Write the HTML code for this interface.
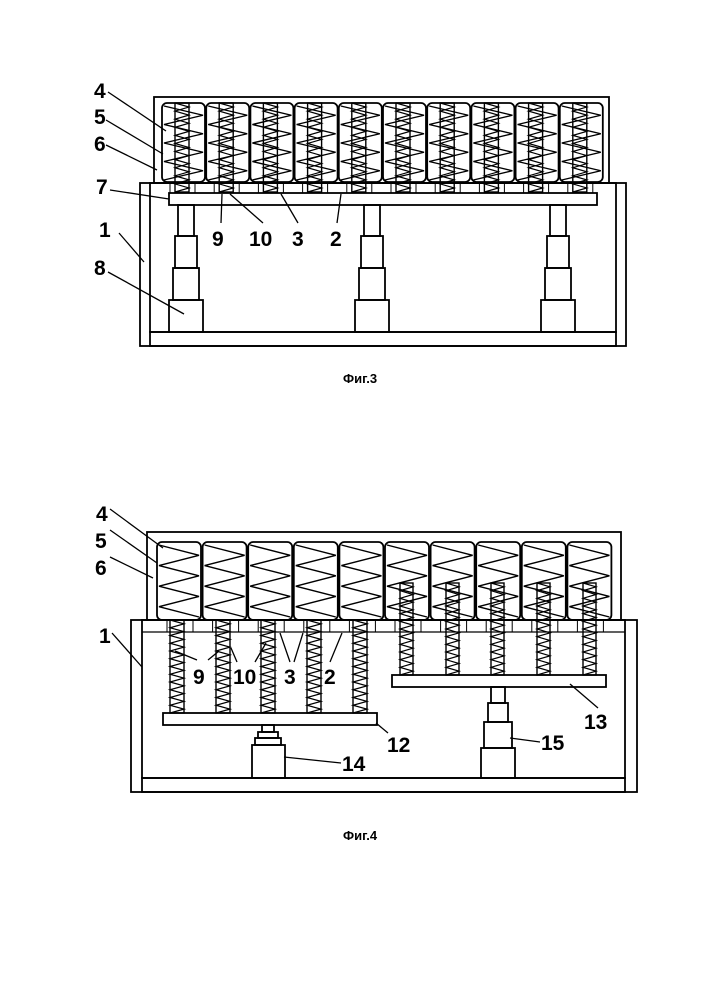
<!DOCTYPE html>
<html><head><meta charset="utf-8"><style>
html,body{margin:0;padding:0;background:#fff;width:707px;height:1000px;overflow:hidden}
svg{display:block}
text{font-family:"Liberation Sans",Arial,sans-serif;fill:#000}
.l{font-size:21px;font-weight:bold}
.c{font-size:13px;font-weight:bold}
</style></head><body>
<svg id="s" width="707" height="1000" viewBox="0 0 707 1000" xmlns="http://www.w3.org/2000/svg" fill="none" stroke="#000" stroke-width="1.8">
<g id="g"></g>
<g stroke="#000" stroke-width="1.3">
<!-- Fig3 leaders -->
<line x1="108" y1="92" x2="166" y2="131"/>
<line x1="106" y1="120" x2="163" y2="154"/>
<line x1="106" y1="145" x2="157" y2="170"/>
<line x1="110" y1="190" x2="169" y2="199"/>
<line x1="119" y1="233" x2="144" y2="262"/>
<line x1="108" y1="272" x2="184" y2="314"/>
<line x1="221" y1="223" x2="222" y2="194"/>
<line x1="263" y1="223" x2="230" y2="194"/>
<line x1="298" y1="223" x2="281" y2="194"/>
<line x1="337" y1="223" x2="341" y2="194"/>
<!-- Fig4 leaders -->
<line x1="110" y1="509" x2="163" y2="548"/>
<line x1="110" y1="530" x2="157" y2="563"/>
<line x1="110" y1="557" x2="153" y2="578"/>
<line x1="112" y1="633" x2="142" y2="667"/>
<line x1="197" y1="660" x2="175" y2="651"/>
<line x1="208" y1="660" x2="219" y2="651"/>
<line x1="237" y1="662" x2="231" y2="648"/>
<line x1="255" y1="662" x2="266" y2="643"/>
<line x1="290" y1="662" x2="280" y2="633"/>
<line x1="294" y1="662" x2="303" y2="633"/>
<line x1="330" y1="662" x2="342" y2="633"/>
<line x1="388" y1="733" x2="376" y2="723"/>
<line x1="598" y1="708" x2="570" y2="684"/>
<line x1="341" y1="763" x2="284" y2="757"/>
<line x1="540" y1="742" x2="510" y2="738"/>
</g>
<g stroke="none">
<text class="l" x="94" y="98">4</text>
<text class="l" x="94" y="124">5</text>
<text class="l" x="94" y="151">6</text>
<text class="l" x="96" y="194">7</text>
<text class="l" x="99" y="237">1</text>
<text class="l" x="94" y="275">8</text>
<text class="l" x="212" y="246">9</text>
<text class="l" x="249" y="246">10</text>
<text class="l" x="292" y="246">3</text>
<text class="l" x="330" y="246">2</text>
<text class="c" x="343" y="383">Фиг.3</text>
<text class="l" x="96" y="521">4</text>
<text class="l" x="95" y="548">5</text>
<text class="l" x="95" y="575">6</text>
<text class="l" x="99" y="643">1</text>
<text class="l" x="193" y="684">9</text>
<text class="l" x="233" y="684">10</text>
<text class="l" x="284" y="684">3</text>
<text class="l" x="324" y="684">2</text>
<text class="l" x="387" y="752">12</text>
<text class="l" x="584" y="729">13</text>
<text class="l" x="342" y="771">14</text>
<text class="l" x="541" y="750">15</text>
<text class="c" x="343" y="840">Фиг.4</text>
</g>
</svg>
<script>
var g=document.getElementById('g'),h='';
function R(x,y,w,hh,sw){h+='<rect x="'+x+'" y="'+y+'" width="'+w+'" height="'+hh+'"'+(sw?' stroke-width="'+sw+'"':'')+'/>';}
function P(pts,sw){h+='<polyline points="'+pts.join(' ')+'"'+(sw?' stroke-width="'+sw+'"':'')+'/>';}
function RR(x,y,w,hh){h+='<rect x="'+x+'" y="'+y+'" width="'+w+'" height="'+hh+'" rx="5"/>';}
function coil(x,y1,w,y2,n){var p=[];var st=(y2-y1)/n;for(var i=0;i<=n;i++){p.push((i%2?x+w:x)+','+(y1+i*st));}R(x,y1,w,y2-y1,1.4);P(p,1.2);}
function big(x,y1,w,y2,n){var p=[];var st=(y2-y1)/n;for(var i=0;i<=n;i++){p.push((i%2?x+w-2:x+2)+','+(y1+i*st));}P(p,1.4);}
/* Fig 3 */
R(154,97,455,86);
R(140,183,486,163);R(150,183,466,149);
R(150,332,466,14);
R(169,193,428,12);
for(var i=0;i<10;i++){var x=162+i*44.2;RR(x,103,43,79);big(x,106,43,180,8);coil(x+13,103,14,192,22);
 h+='<line x1="'+(x+8)+'" y1="183" x2="'+(x+8)+'" y2="193" stroke-width="1"/><line x1="'+(x+33)+'" y1="183" x2="'+(x+33)+'" y2="193" stroke-width="1"/>';}
[186,372,558].forEach(function(c){R(c-8,205,16,31);R(c-11,236,22,32);R(c-13,268,26,32);R(c-17,300,34,32);});
/* Fig 4 */
R(147,532,474,88);
R(131,620,506,172);R(142,620,483,158);
R(142,778,483,14);
h+='<line x1="142" y1="632" x2="625" y2="632" stroke-width="1.2"/>';
for(var i=0;i<10;i++){var x=157+i*45.6;RR(x,542,44,78);big(x,545,44,617,7);
 h+='<line x1="'+(x+10)+'" y1="620" x2="'+(x+10)+'" y2="632" stroke-width="1"/><line x1="'+(x+36)+'" y1="620" x2="'+(x+36)+'" y2="632" stroke-width="1"/>';}
[170,216,261,307,353].forEach(function(x){coil(x,620,14,713,24);});
R(163,713,214,12);
R(262,725,12,7);R(258,732,20,6);R(255,738,26,7);R(252,745,33,33);
[400,446,491,537,583].forEach(function(x){coil(x,583,13,675,24);});
R(392,675,214,12);
R(491,687,14,16);R(488,703,20,19);R(484,722,28,26);R(481,748,34,30);
g.innerHTML=h;
</script>
</body></html>
